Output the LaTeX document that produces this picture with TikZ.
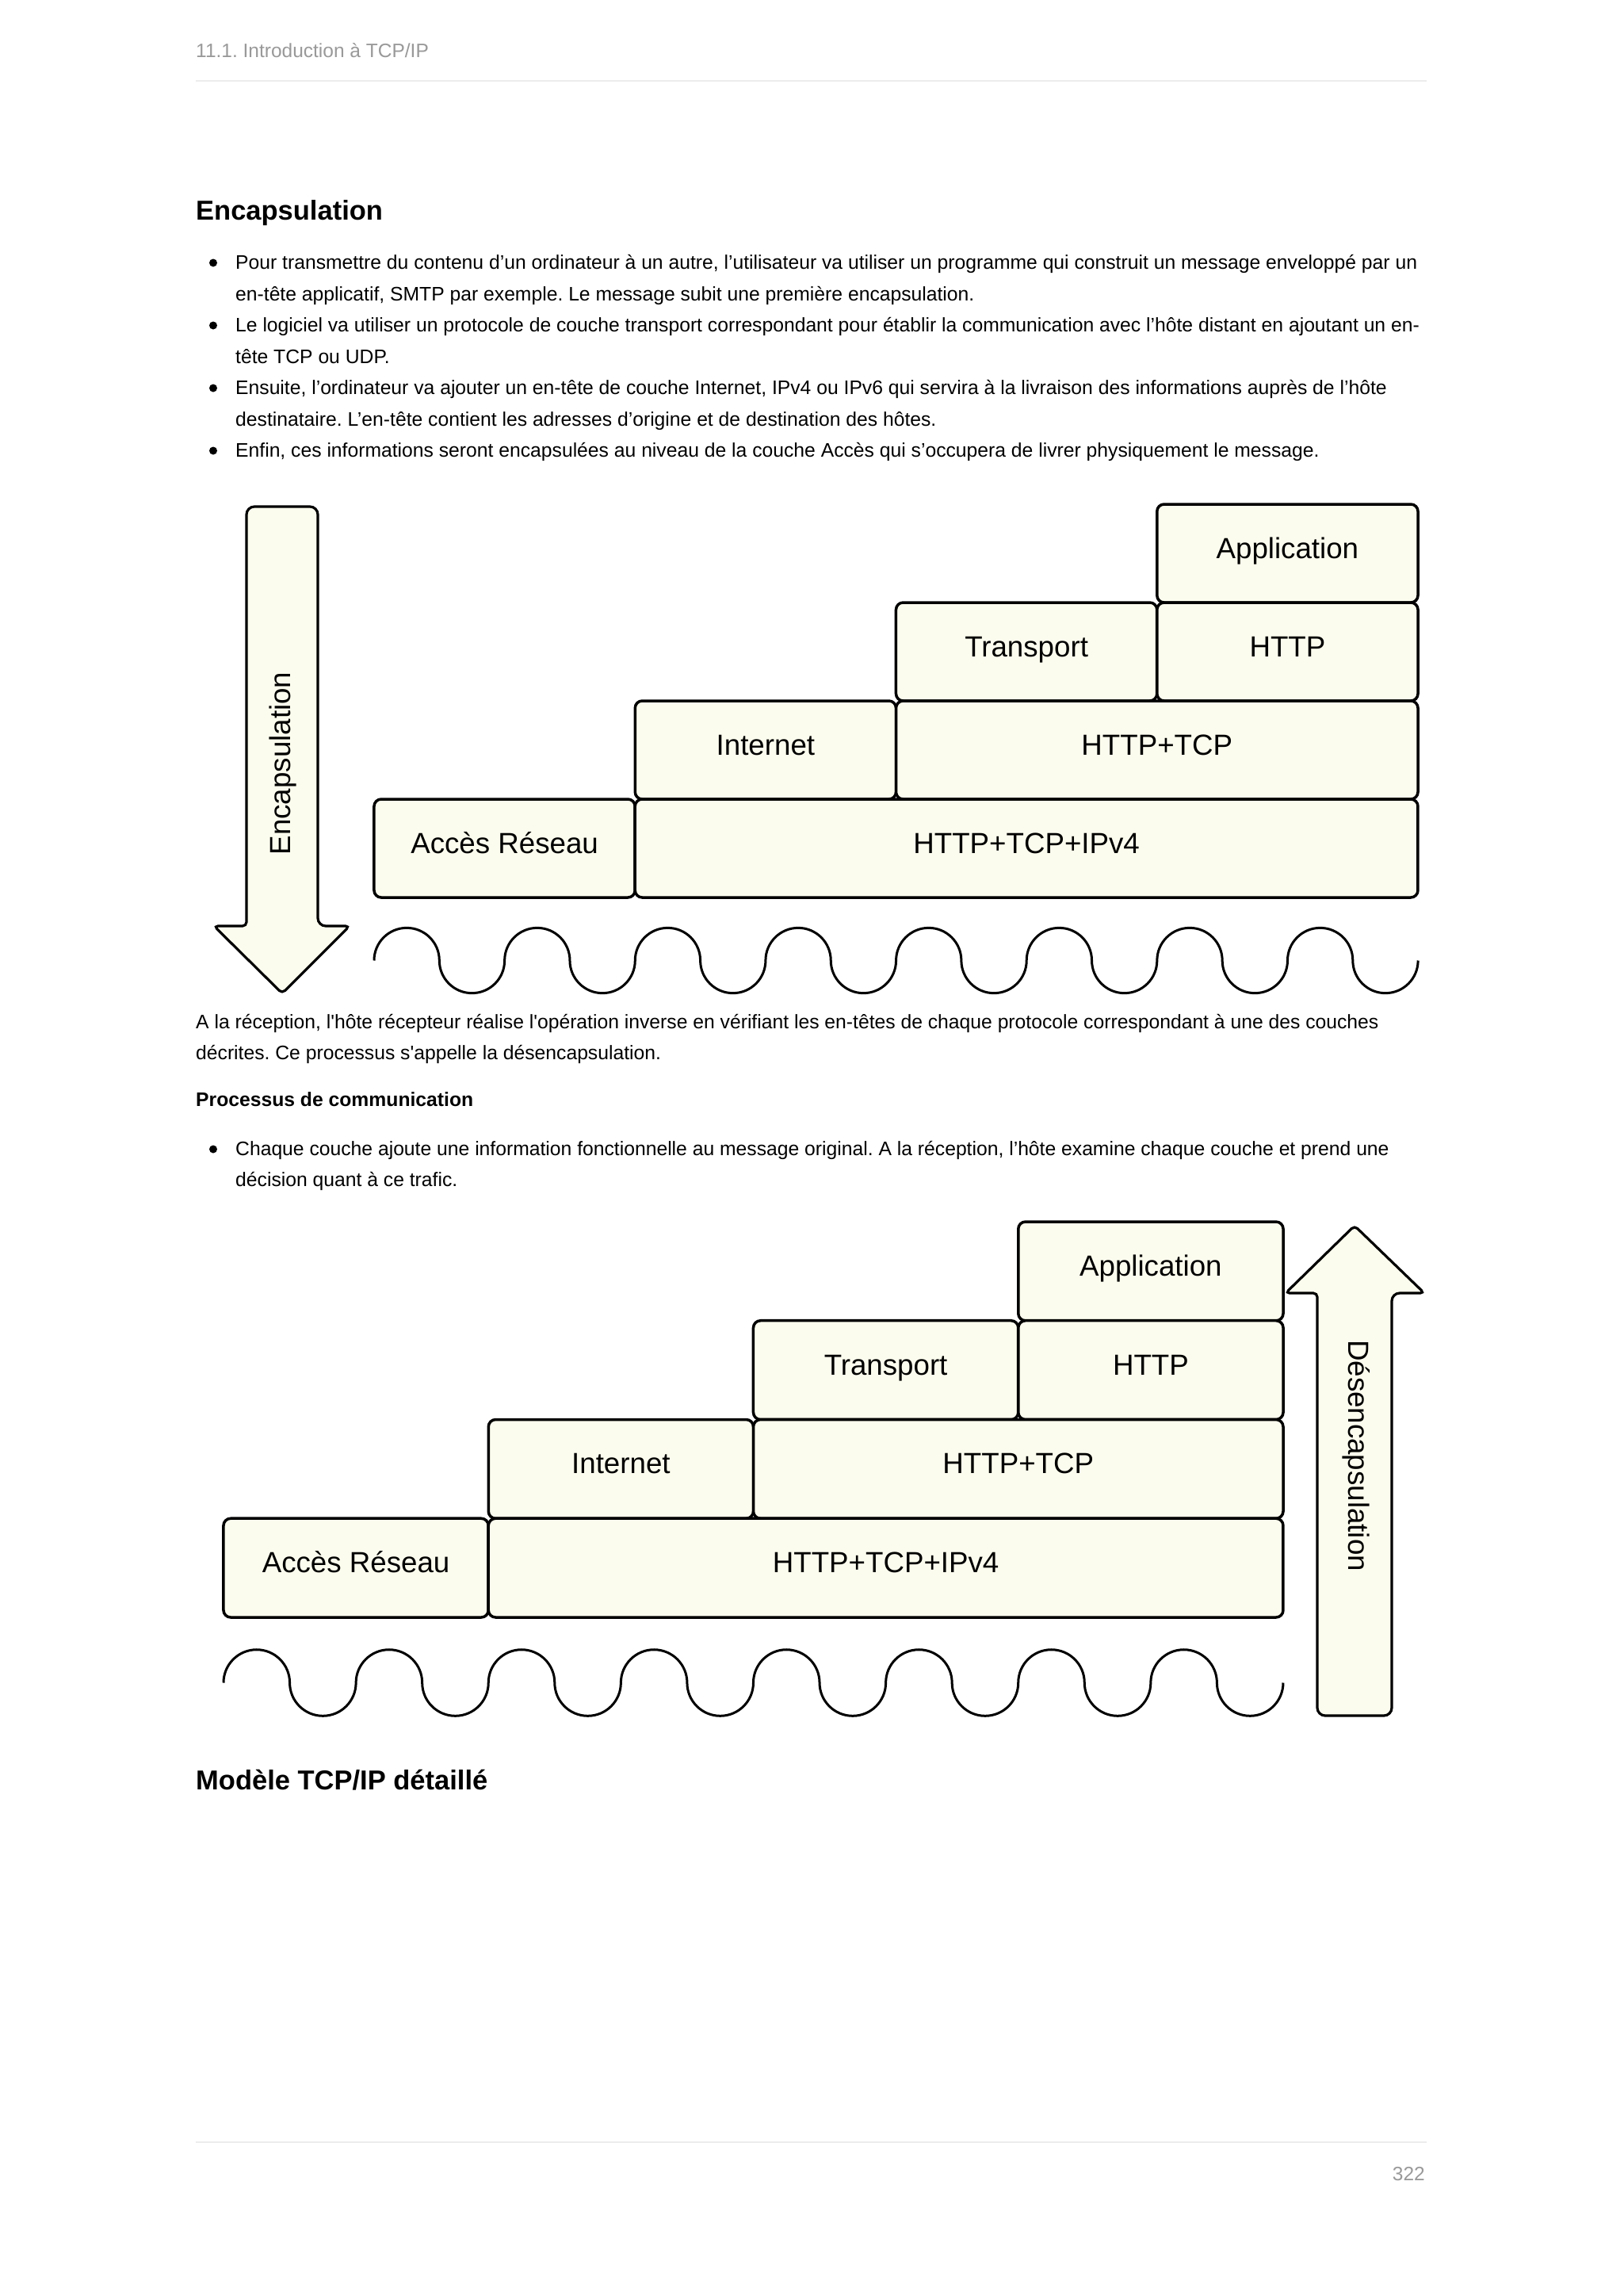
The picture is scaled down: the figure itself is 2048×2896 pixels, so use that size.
\documentclass[tikz,border=0pt]{standalone}
\usepackage{fontspec}
\setmainfont{Liberation Sans}[Ligatures=TeXOff]
\definecolor{boxfill}{RGB}{252,252,238}
\definecolor{graytxt}{RGB}{153,153,153}
\definecolor{rulecol}{RGB}{236,236,236}
\frenchspacing
\begin{document}
\begin{tikzpicture}[x=1pt,y=-1pt,
  txt/.style={anchor=base west,inner sep=0pt,font=\fontsize{24.7pt}{29pt}\selectfont},
  bold/.style={txt,font=\fontsize{24.7pt}{29pt}\selectfont\bfseries},
  head/.style={txt,font=\fontsize{34.5pt}{40pt}\selectfont\bfseries},
  grey/.style={inner sep=0pt,text=graytxt,font=\fontsize{24.5pt}{28pt}\selectfont},
  dot/.style={circle,fill=black,inner sep=0pt,minimum size=10pt},
  rulel/.style={draw=rulecol,line width=2.5pt},
  layer/.style={draw=black,line width=3.5pt,fill=boxfill,rounded corners=9pt,inner sep=0pt,
    text height=26pt,text depth=14pt,font=\fontsize{36.7pt}{40pt}\selectfont},
  lay1/.style={layer,minimum height=124pt},
  lay2/.style={layer,minimum height=124.75pt},
  arrowshape/.style={draw=black,line width=3.2pt,fill=boxfill,rounded corners=5pt},
  wave/.style={draw=black,line width=3pt},
  arrtxt/.style={anchor=base,inner sep=0pt,font=\fontsize{36.7pt}{40pt}\selectfont}
]
\useasboundingbox[fill=white] (0,0) rectangle (2048,2896);

% header
\node[grey,anchor=base west] (hdr) at (247,72) {11.1. Introduction à TCP/IP};
\coordinate (r1a) at (247,102); \coordinate (r1b) at (1800,102);
\draw[rulel] (r1a) -- (r1b);

% Encapsulation section
\node[head] (h1) at (247,277) {Encapsulation};
\node[dot] (b1) at (269,331.5) {};
\node[txt] (l1) at (297,339) {Pour transmettre du contenu d’un ordinateur à un autre, l’utilisateur va utiliser un programme qui construit un message enveloppé par un};
\node[txt] (l2) at (297,379) {en-tête applicatif, SMTP par exemple. Le message subit une première encapsulation.};
\node[dot] (b2) at (269,410.5) {};
\node[txt] (l3) at (297,418) {Le logiciel va utiliser un protocole de couche transport correspondant pour établir la communication avec l’hôte distant en ajoutant un en-};
\node[txt] (l4) at (297,458) {tête TCP ou UDP.};
\node[dot] (b3) at (269,489.5) {};
\node[txt] (l5) at (297,497) {Ensuite, l’ordinateur va ajouter un en-tête de couche Internet, IPv4 ou IPv6 qui servira à la livraison des informations auprès de l’hôte};
\node[txt] (l6) at (297,537) {destinataire. L’en-tête contient les adresses d’origine et de destination des hôtes.};
\node[dot] (b4) at (269,568.5) {};
\node[txt] (l7) at (297,576) {Enfin, ces informations seront encapsulées au niveau de la couche Accès qui s’occupera de livrer physiquement le message.};

% Diagram 1
\draw[arrowshape] (311,1168) [rounded corners=10pt] -- (311,639) -- (401,639) -- (401,1168) [rounded corners=5pt] -- (441,1168) -- (356,1253) -- (270,1168) -- cycle;
\node[arrtxt,rotate=90] (enc) at (366,963) {Encapsulation};

\node[lay1,minimum width=329.25pt] (app1) at (1624.4,698) {Application};
\node[lay1,minimum width=329.25pt] (tr1) at (1295.1,822) {Transport};
\node[lay1,minimum width=329.25pt] (http1) at (1624.4,822) {HTTP};
\node[lay1,minimum width=329.25pt] (int1) at (965.9,946) {Internet};
\node[lay1,minimum width=658.5pt] (ht1) at (1459.75,946) {HTTP+TCP};
\node[lay1,minimum width=329.25pt] (acc1) at (636.6,1070) {Accès Réseau};
\node[lay1,minimum width=987.75pt] (hti1) at (1295.1,1070) {HTTP+TCP+IPv4};

\coordinate (w1) at (472,1211.5);
\draw[wave] (w1) foreach \i in {1,...,8} {
  arc[start angle=180,end angle=0,radius=41.16pt]
  arc[start angle=180,end angle=360,radius=41.16pt] };

% paragraph
\node[txt] (p1) at (247,1297) {A la réception, l'hôte récepteur réalise l'opération inverse en vérifiant les en-têtes de chaque protocole correspondant à une des couches};
\node[txt] (p2) at (247,1336) {décrites. Ce processus s'appelle la désencapsulation.};
\node[bold] (pc) at (247,1395) {Processus de communication};
\node[dot] (b5) at (269,1449.5) {};
\node[txt] (l8) at (297,1457) {Chaque couche ajoute une information fonctionnelle au message original. A la réception, l’hôte examine chaque couche et prend une};
\node[txt] (l9) at (297,1496) {décision quant à ce trafic.};

% Diagram 2
\node[lay2,minimum width=334.25pt] (app2) at (1451.9,1603.4) {Application};
\node[lay2,minimum width=334.25pt] (tr2) at (1117.6,1728.1) {Transport};
\node[lay2,minimum width=334.25pt] (http2) at (1451.9,1728.1) {HTTP};
\node[lay2,minimum width=334.25pt] (int2) at (783.4,1852.9) {Internet};
\node[lay2,minimum width=668.5pt] (ht2) at (1284.75,1852.9) {HTTP+TCP};
\node[lay2,minimum width=334.25pt] (acc2) at (449.1,1977.6) {Accès Réseau};
\node[lay2,minimum width=1002.75pt] (hti2) at (1117.6,1977.6) {HTTP+TCP+IPv4};

\draw[arrowshape] (1662,1631) [rounded corners=10pt] -- (1662,2164) -- (1756,2164) -- (1756,1631) [rounded corners=5pt] -- (1797,1631) -- (1709,1546) -- (1622,1631) -- cycle;
\node[arrtxt,rotate=-90] (desenc) at (1701,1836) {Désencapsulation};

\coordinate (w2) at (282,2122.5);
\draw[wave] (w2) foreach \i in {1,...,8} {
  arc[start angle=180,end angle=0,radius=41.78pt]
  arc[start angle=180,end angle=360,radius=41.78pt] };

\node[head] (h2) at (247,2257) {Modèle TCP/IP détaillé};

% footer
\coordinate (r2a) at (247,2702); \coordinate (r2b) at (1800,2702);
\draw[rulel] (r2a) -- (r2b);
\node[grey,anchor=base east] (pg) at (1798,2750) {322};
\end{tikzpicture}
\end{document}
